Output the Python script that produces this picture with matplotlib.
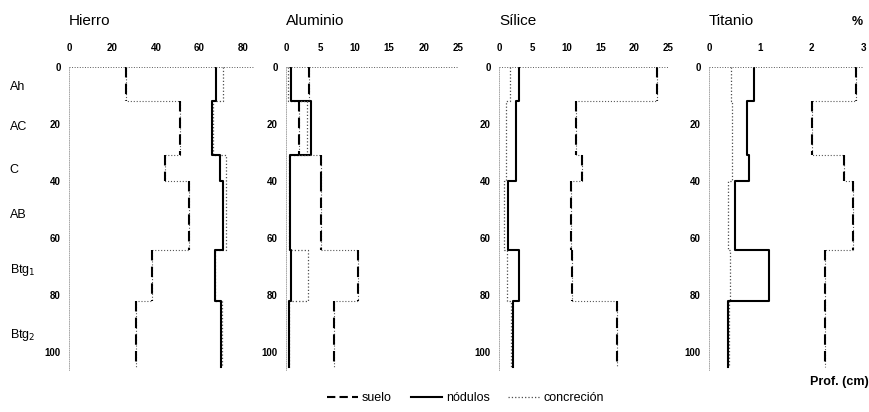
import numpy as np
import matplotlib.pyplot as plt
from matplotlib.lines import Line2D

plt.rcParams['font.family'] = ['Liberation Sans', 'DejaVu Sans']

# Límites de horizontes (cm)
limites = [0, 12, 31, 40, 64, 82, 105]
horizontes = ['Ah', 'AC', 'C', 'AB', 'Btg$_1$', 'Btg$_2$']
prof_etiquetas = [7, 21, 36, 52, 71, 94]

# Valores por horizonte (%)
hierro_suelo = [26, 51, 44, 55, 38, 31]
hierro_nodulos = [67.5, 65.5, 69.5, 71, 67, 70]
hierro_concrecion = [71, 66, 72, 72, 67, 70.5]

aluminio_suelo = [3.3, 1.9, 5.1, 5.1, 10.4, 7.0]
aluminio_nodulos = [0.7, 3.6, 0.6, 0.6, 0.7, 0.5]
aluminio_concrecion = [0.3, 3.1, 0.5, 0.5, 3.2, 0.4]

silice_suelo = [23.4, 11.4, 12.3, 10.6, 10.8, 17.5]
silice_nodulos = [3.0, 2.5, 2.5, 1.3, 3.0, 2.1]
silice_concrecion = [1.6, 1.0, 1.0, 0.7, 1.2, 1.7]

titanio_suelo = [2.86, 2.0, 2.62, 2.8, 2.26, 2.26]
titanio_nodulos = [0.88, 0.74, 0.78, 0.51, 1.16, 0.37]
titanio_concrecion = [0.42, 0.44, 0.45, 0.36, 0.41, 0.38]

paneles = [
    ('Hierro', hierro_suelo, hierro_nodulos, hierro_concrecion, (0, 85), [0, 20, 40, 60, 80]),
    ('Aluminio', aluminio_suelo, aluminio_nodulos, aluminio_concrecion, (0, 25), [0, 5, 10, 15, 20, 25]),
    ('Sílice', silice_suelo, silice_nodulos, silice_concrecion, (0, 25), [0, 5, 10, 15, 20, 25]),
    ('Titanio', titanio_suelo, titanio_nodulos, titanio_concrecion, (0, 3), [0, 1, 2, 3]),
]

# posiciones de los paneles [izq, ancho] en fracción de figura
posiciones = [(0.0793, 0.2126), (0.3287, 0.1977), (0.5736, 0.1943), (0.815, 0.177)]


def escalon(valores):
    xs = np.repeat(valores, 2)
    ys = np.column_stack([limites[:-1], limites[1:]]).ravel()
    return xs, ys


def tramos(valores):
    # solo los tramos verticales, separados por NaN
    xs = np.column_stack([valores, valores, np.full(len(valores), np.nan)]).ravel()
    ys = np.column_stack([limites[:-1], limites[1:], np.full(len(valores), np.nan)]).ravel()
    return xs, ys


fig = plt.figure(figsize=(8.7, 4.12), dpi=100)

for (nombre, s, n, c, xlim, xt), (izq, ancho) in zip(paneles, posiciones):
    ax = fig.add_axes([izq, 0.0752, ancho, 0.7622])
    x, y = escalon(c)
    ax.plot(x, y, ls=':', lw=0.9, color='0.3')
    x, y = escalon(n)
    ax.plot(x, y, ls='-', lw=1.5, color='black')
    # suelo: conectores horizontales punteados, tramos verticales discontinuos
    x, y = escalon(s)
    ax.plot(x, y, ls=':', lw=0.8, color='0.35')
    x, y = tramos(s)
    ax.plot(x, y, ls=(0, (5, 3)), lw=1.5, color='black')
    ax.axhline(0, ls=':', lw=0.7, color='0.35')
    ax.set_xlim(*xlim)
    ax.set_ylim(110, 0)
    ax.set_xticks(xt)
    ax.set_yticks([0, 20, 40, 60, 80, 100])
    ax.xaxis.tick_top()
    ax.tick_params(length=0, labelsize=7)
    ax.tick_params(axis='x', pad=10)
    ax.tick_params(axis='y', pad=6)
    for lab in ax.get_xticklabels() + ax.get_yticklabels():
        lab.set_fontweight('bold')
    for lado in ['top', 'right', 'bottom']:
        ax.spines[lado].set_visible(False)
    ax.spines['left'].set_bounds(0, 106)
    ax.spines['left'].set_linestyle(':')
    ax.spines['left'].set_linewidth(0.6)
    ax.spines['left'].set_color('0.6')
    ax.text(0.0, 1.145, nombre, transform=ax.transAxes, fontsize=11, va='center', ha='left')
    if nombre == 'Hierro':
        for h, p in zip(horizontes, prof_etiquetas):
            ax.text(-0.32, p, h, transform=ax.get_yaxis_transform(), fontsize=9, va='center', ha='left')

fig.text(0.992, 0.946, '%', fontsize=9, fontweight='bold', ha='right', va='center')
fig.text(0.998, 0.073, 'Prof. (cm)', fontsize=9, fontweight='bold', ha='right', va='center')

manijas = [Line2D([], [], ls=(0, (4, 2)), lw=1.5, color='black'),
           Line2D([], [], ls='-', lw=1.5, color='black'),
           Line2D([], [], ls=':', lw=0.9, color='0.3')]
fig.legend(manijas, ['suelo', 'nódulos', 'concreción'], loc='center', bbox_to_anchor=(0.535, 0.034),
           ncol=3, frameon=False, fontsize=9, handlelength=2.5, handletextpad=0.3, columnspacing=1.5)

fig.savefig('out.png', dpi=100)
